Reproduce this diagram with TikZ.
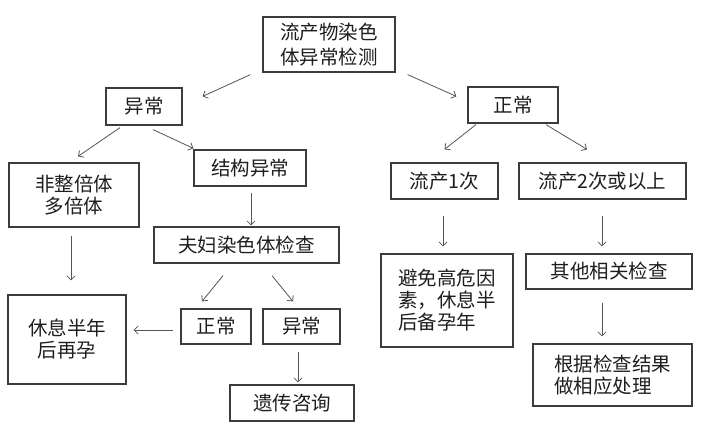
\documentclass[tikz,border=0pt]{standalone}
\usepackage{fontspec}
\usetikzlibrary{arrows.meta}
\newfontfamily\cjk{Noto Sans CJK SC}
\definecolor{boxline}{HTML}{3C3C3C}
\definecolor{arrline}{HTML}{555555}
\definecolor{txt}{HTML}{1E1E1E}
\tikzset{
  box/.style={draw=boxline, line width=1.2pt, inner sep=0pt, text=txt,
    font=\cjk\fontsize{19.5}{22}\selectfont, align=center},
  arr/.style={draw=arrline, line width=0.8pt, -{Straight Barb[length=4pt,width=8pt]}}
}
\begin{document}
\begin{tikzpicture}[x=1pt,y=-1pt]
\useasboundingbox (0,0) rectangle (705,437);
\node[box, minimum width=132pt, minimum height=55pt, font=\cjk\fontsize{19.5}{25}\selectfont] (chk) at (329,44.5) {流产物染色\\体异常检测};
\node[box, minimum width=76pt, minimum height=37pt] (abn) at (144,106.5) {异常};
\node[box, minimum width=90pt, minimum height=36pt] (nor) at (513,105) {正常};
\node[box, minimum width=130pt, minimum height=64pt] (aneu) at (74,195) {非整倍体\\多倍体};
\node[box, minimum width=112pt, minimum height=36pt] (struct) at (250,168) {结构异常};
\node[box, minimum width=107pt, minimum height=36pt] (once) at (444.5,181) {流产1次};
\node[box, minimum width=167pt, minimum height=36pt] (twice) at (602.5,181) {流产2次或以上};
\node[box, minimum width=185pt, minimum height=36pt] (couple) at (246.5,245) {夫妇染色体检查};
\node[box, minimum width=118pt, minimum height=89pt] (rest) at (67,339.5) {休息半年\\后再孕};
\node[box, minimum width=70pt, minimum height=35pt] (cnor) at (216,326.5) {正常};
\node[box, minimum width=77pt, minimum height=35pt] (cabn) at (301.5,326.5) {异常};
\node[box, minimum width=124pt, minimum height=36pt] (gen) at (292,403) {遗传咨询};
\node[box, minimum width=132pt, minimum height=93pt, align=left] (avoid) at (447,300.5) {避免高危因\\素，休息半\\后备孕年};
\node[box, minimum width=166pt, minimum height=35pt] (other) at (609,271.5) {其他相关检查};
\node[box, minimum width=159pt, minimum height=62pt, align=left] (deal) at (612.5,375) {根据检查结果\\做相应处理};

\draw[arr] ([xshift=-12pt,yshift=-2pt]chk.south west) -- ([xshift=20pt,yshift=-9pt]abn.north east);
\draw[arr] ([xshift=12pt,yshift=-2pt]chk.south east) -- ([xshift=-11pt,yshift=-10pt]nor.north west);
\draw[arr] ([xshift=-24pt,yshift=-2pt]abn.south) -- ([xshift=4pt,yshift=6pt]aneu.north);
\draw[arr] ([xshift=9pt,yshift=-4pt]abn.south) -- ([yshift=1pt]struct.north west);
\draw[arr, shorten <=6pt, shorten >=1pt] ([xshift=1pt]struct.south) -- ([xshift=4.5pt]couple.north);
\draw[arr, shorten <=8pt, shorten >=14pt] ([xshift=-3pt]aneu.south) -- ([xshift=4pt]rest.north);
\draw[arr] ([xshift=-23.5pt,yshift=-12pt]couple.south) -- ([xshift=-14pt,yshift=7pt]cnor.north);
\draw[arr] ([xshift=25.5pt,yshift=-12pt]couple.south) -- ([xshift=-8.5pt,yshift=7pt]cabn.north);
\draw[arr, shorten <=7pt, shorten >=7pt] ([yshift=-3.5pt]cnor.west) -- ([yshift=-3.5pt]cnor.west -| rest.east);
\draw[arr, shorten <=7pt, shorten >=2pt] ([xshift=-3.5pt]cabn.south) -- ([xshift=6pt]gen.north);
\draw[arr] ([xshift=-37pt,yshift=-1pt]nor.south) -- ([yshift=13pt]once.north);
\draw[arr] ([xshift=33pt,yshift=-1pt]nor.south) -- ([xshift=-15.5pt,yshift=13pt]twice.north);
\draw[arr, shorten <=16pt, shorten >=7pt] ([xshift=-1.5pt]once.south) -- ([xshift=-4pt]avoid.north);
\draw[arr, shorten <=16pt, shorten >=7pt] ([xshift=-0.5pt]twice.south) -- ([xshift=-7pt]other.north);
\draw[arr, shorten <=13pt, shorten >=7pt] ([xshift=-7pt]other.south) -- ([xshift=-10.5pt]deal.north);
\end{tikzpicture}
\end{document}
